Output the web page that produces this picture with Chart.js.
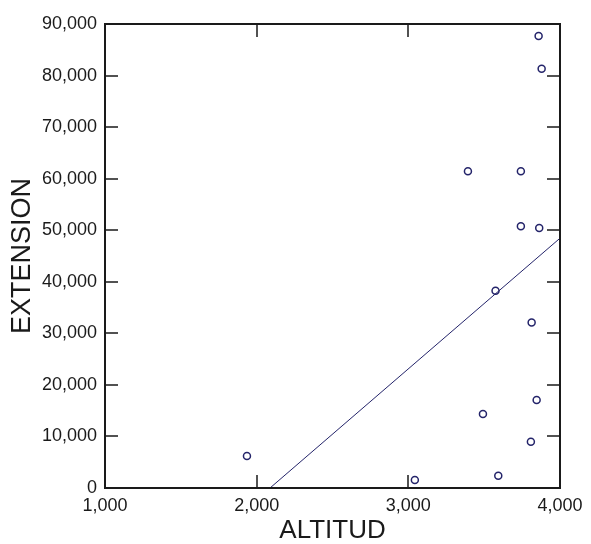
<!DOCTYPE html>
<html>
<head>
<meta charset="utf-8">
<title>EXTENSION vs ALTITUD</title>
<script src="https://cdn.jsdelivr.net/npm/chart.js@4"></script>
<style>
  html, body { margin: 0; padding: 0; background: #fff; }
  #chart-wrap { width: 591px; height: 544px; }
</style>
</head>
<body>
<div id="chart-wrap"><canvas id="scatter" width="591" height="544"></canvas></div>
<script>
const altitud   = [1936, 3043, 3593, 3808, 3492, 3846, 3813, 3575, 3742, 3863, 3393, 3742, 3879, 3859];
const extension = [6200, 1550, 2380, 8970, 14340, 17050, 32110, 38240, 50780, 50450, 61430, 61430, 81340, 87660];

/* Fitted line end points */
const fitX = [2088, 4000];
const fitY = [0, 48450];

/* Axis tick values */
const xTicks = [1000, 2000, 3000, 4000];
const yTicks = [0, 10000, 20000, 30000, 40000, 50000, 60000, 70000, 80000, 90000];

const INK = '#1a1a1a';
const MARK = '#24246a';
const TICK_LEN = 13;

const fmt = v => Number(v).toLocaleString('en-US');

// Box frame + inward tick marks on all four sides
const frameTicks = {
  id: 'frameTicks',
  afterDraw(chart) {
    const { ctx, chartArea: a } = chart;
    const xs = chart.scales.x, ys = chart.scales.y;
    ctx.save();
    ctx.strokeStyle = INK;
    ctx.lineWidth = 2;
    ctx.strokeRect(a.left, a.top, a.right - a.left, a.bottom - a.top);
    ctx.lineWidth = 1.5;
    ctx.beginPath();
    xs.ticks.slice(1, -1).forEach(t => {
      const px = Math.round(xs.getPixelForValue(t.value));
      ctx.moveTo(px, a.bottom); ctx.lineTo(px, a.bottom - TICK_LEN);
      ctx.moveTo(px, a.top);    ctx.lineTo(px, a.top + TICK_LEN);
    });
    ys.ticks.slice(1, -1).forEach(t => {
      const py = Math.round(ys.getPixelForValue(t.value));
      ctx.moveTo(a.left, py);  ctx.lineTo(a.left + TICK_LEN, py);
      ctx.moveTo(a.right, py); ctx.lineTo(a.right - TICK_LEN, py);
    });
    ctx.stroke();
    ctx.restore();
  }
};

function buildChart() {
  const ctx = document.getElementById('scatter').getContext('2d');

  new Chart(ctx, {
    type: 'scatter',
    data: {
      datasets: [
        {
          label: 'EXTENSION',
          data: altitud.map((x, i) => ({ x, y: extension[i] })),
          pointStyle: 'circle',
          pointRadius: 3.5,
          pointBorderWidth: 1.5,
          borderColor: MARK,
          backgroundColor: 'rgba(0,0,0,0)',
          showLine: false
        },
        {
          label: 'Fit',
          data: fitX.map((x, i) => ({ x, y: fitY[i] })),
          showLine: true,
          borderColor: MARK,
          borderWidth: 1,
          pointRadius: 0,
          fill: false
        }
      ]
    },
    options: {
      responsive: false,
      devicePixelRatio: 1,
      animation: false,
      layout: { padding: { top: 24, right: 31, bottom: 0, left: 0 } },
      plugins: {
        legend: { display: false },
        tooltip: { enabled: false }
      },
      scales: {
        x: {
          type: 'linear',
          min: xTicks[0],
          max: xTicks[xTicks.length - 1],
          afterBuildTicks: s => { s.ticks = xTicks.map(value => ({ value })); },
          grid: { display: false, drawTicks: false },
          border: { display: false },
          ticks: {
            color: INK,
            padding: 7,
            font: { family: 'Liberation Sans, Arial, sans-serif', size: 18 },
            callback: fmt,
            maxRotation: 0
          },
          title: {
            display: true,
            text: 'ALTITUD',
            color: INK,
            font: { family: 'Liberation Sans, Arial, sans-serif', size: 26, lineHeight: 1 },
            padding: { top: 0, bottom: 0 }
          },
          afterFit: s => { s.height = 56; }
        },
        y: {
          type: 'linear',
          min: yTicks[0],
          max: yTicks[yTicks.length - 1],
          afterBuildTicks: s => { s.ticks = yTicks.map(value => ({ value })); },
          grid: { display: false, drawTicks: false },
          border: { display: false },
          ticks: {
            color: INK,
            padding: 8,
            font: { family: 'Liberation Sans, Arial, sans-serif', size: 18 },
            callback: fmt
          },
          title: {
            display: true,
            text: 'EXTENSION',
            color: INK,
            font: { family: 'Liberation Sans, Arial, sans-serif', size: 27, lineHeight: 1.2 },
            padding: { top: 6, bottom: 0 }
          },
          afterFit: s => { s.width = 105; }
        }
      }
    },
    plugins: [frameTicks]
  });
}

document.addEventListener('DOMContentLoaded', buildChart);
</script>
</body>
</html>
